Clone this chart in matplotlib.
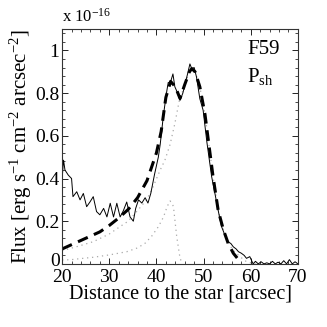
import numpy as np
import matplotlib
matplotlib.use("Agg")
import matplotlib.pyplot as plt
from matplotlib.ticker import MultipleLocator, FuncFormatter

plt.rcParams['font.family'] = ['Liberation Serif', 'DejaVu Serif']
plt.rcParams['mathtext.fontset'] = 'custom'
plt.rcParams['mathtext.rm'] = 'Liberation Serif'
plt.rcParams['mathtext.it'] = 'Liberation Serif:italic'

# observed profile (units of 1e-16)
obs_x = [20.0, 20.3, 20.6, 21.3, 22.0, 22.3, 23.1, 23.8, 24.5, 25.2, 25.9, 26.6, 27.3,
         28.0, 28.8, 29.5, 30.2, 30.9, 31.6, 32.3, 33.0, 33.7, 34.4, 35.1, 35.6, 36.2,
         36.9, 37.6, 38.2, 38.8, 39.6, 40.4, 40.8, 41.5, 42.2, 42.5, 42.9, 43.5, 43.9,
         44.5, 45.0, 45.6, 46.1, 46.6, 47.1, 47.5, 48.0, 48.5, 49.2, 49.9, 50.7, 51.7,
         52.4, 53.1, 53.8, 54.5, 55.2, 55.8, 56.3, 56.9, 57.4, 58.0, 58.6, 59.1, 59.8,
         60.5, 61.0, 61.6, 62.2, 62.8, 63.4, 64.0, 64.6, 65.2, 65.8, 66.4, 67.0, 67.6,
         68.2, 68.8, 69.4, 70.0]
obs_y = [0.40, 0.486, 0.44, 0.416, 0.40, 0.315, 0.338, 0.30, 0.33, 0.268, 0.29, 0.315, 0.245,
         0.23, 0.26, 0.22, 0.284, 0.22, 0.284, 0.22, 0.25, 0.29, 0.22, 0.20, 0.26, 0.30,
         0.285, 0.31, 0.285, 0.33, 0.42, 0.50, 0.56, 0.70, 0.81, 0.85, 0.845, 0.89, 0.83,
         0.80, 0.766, 0.80, 0.845, 0.89, 0.937, 0.914, 0.92, 0.875, 0.774, 0.72, 0.57, 0.41,
         0.33, 0.25, 0.175, 0.136, 0.104, 0.095, 0.08, 0.07, 0.057, 0.05, 0.04, 0.026, 0.034,
         0.0, 0.012, 0.0, 0.01, 0.0, 0.005, 0.0, 0.012, 0.0, 0.008, 0.0, 0.015, 0.0,
         0.02, 0.0, 0.01, 0.0]

# model total
mod_x = [20, 22, 24, 26, 28, 30, 32, 34, 36, 38, 40, 41, 42, 43, 44, 45, 46, 47, 47.5,
         48.2, 49.2, 50.3, 51.0, 52.0, 53.1, 54.2, 55.2, 56.3, 57.4, 57.7]
mod_y = [0.07, 0.09, 0.11, 0.13, 0.15, 0.18, 0.215, 0.255, 0.31, 0.39, 0.52, 0.62, 0.78,
         0.855, 0.83, 0.775, 0.84, 0.90, 0.915, 0.90, 0.83, 0.70, 0.58, 0.41, 0.25, 0.16,
         0.097, 0.05, 0.02, 0.01]

# broad component
broad_x = [20, 23, 26.6, 30, 32.3, 34, 36, 37.9, 39, 40.8, 41.8, 42.9, 43.9, 44.8, 46, 47,
           47.5, 48.2, 49.2, 50.3, 51.0, 52.0, 53.1, 54.2, 55.2, 56.2, 57.7, 59, 60, 61]
broad_y = [0.062, 0.08, 0.104, 0.14, 0.175, 0.2, 0.25, 0.3, 0.346, 0.44, 0.486, 0.56, 0.657,
           0.76, 0.84, 0.90, 0.915, 0.90, 0.83, 0.70, 0.58, 0.41, 0.25, 0.16, 0.10, 0.065,
           0.034, 0.012, 0.005, 0.0]

# narrow component
narrow_x = [20, 22, 24, 26.6, 30, 33.7, 36, 37.6, 39, 40.4, 41.5, 42.3, 42.9, 43.6, 44.3, 45, 45.5]
narrow_y = [0.018, 0.02, 0.025, 0.031, 0.042, 0.057, 0.075, 0.097, 0.13, 0.174, 0.22, 0.27,
            0.295, 0.27, 0.128, 0.027, 0.0]

fig = plt.figure(figsize=(3.27, 3.27), dpi=100)
ax = fig.add_axes([0.19, 0.193, 0.721, 0.718])

ax.plot(broad_x, broad_y, color='#aaaaaa', ls=(0, (1, 3)), lw=0.9)
ax.plot(narrow_x, narrow_y, color='#aaaaaa', ls=(0, (1, 3)), lw=0.9)
ax.plot(obs_x, obs_y, color='black', lw=0.7)
ax.plot(mod_x, mod_y, color='black', lw=2.2, ls=(0, (3.5, 2.2)))

ax.set_xlim(20, 70)
ax.set_ylim(0, 1.1)
ax.xaxis.set_major_locator(MultipleLocator(10))
ax.xaxis.set_minor_locator(MultipleLocator(2))
ax.yaxis.set_major_locator(MultipleLocator(0.2))
ax.yaxis.set_minor_locator(MultipleLocator(0.04))
# "0" is drawn separately, a touch higher, so it clears the "20" below it
ax.yaxis.set_major_formatter(FuncFormatter(lambda v, p: '' if abs(v) < 1e-9 else '%g' % v))
ax.tick_params(which='both', direction='in', top=True, right=True, labelsize=14, pad=2)
ax.tick_params(axis='x', which='major', pad=3.5)
ax.tick_params(which='major', length=4, width=0.6)
ax.tick_params(which='minor', length=2, width=0.5)
for s in ax.spines.values():
    s.set_linewidth(0.8)
    s.set_color('#333333')

ax.text(-0.0085, 0.02, '0', transform=ax.transAxes, fontsize=14, ha='right', va='center_baseline')

ax.set_xlabel('Distance to the star [arcsec]', fontsize=14.5, labelpad=-1)
ax.set_ylabel(r'Flux [erg s$^{-1}$ cm$^{-2}$ arcsec$^{-2}$]', fontsize=15, labelpad=1)
ax.text(0.0, 1.015, r'x 10$^{-16}$', transform=ax.transAxes, fontsize=12, ha='left', va='bottom')
ax.text(0.785, 0.915, 'F59', transform=ax.transAxes, fontsize=15, ha='left', va='center')
ax.text(0.785, 0.80, r'P$_{\rm sh}$', transform=ax.transAxes, fontsize=15, ha='left', va='center')

fig.savefig('out.png', dpi=100)
